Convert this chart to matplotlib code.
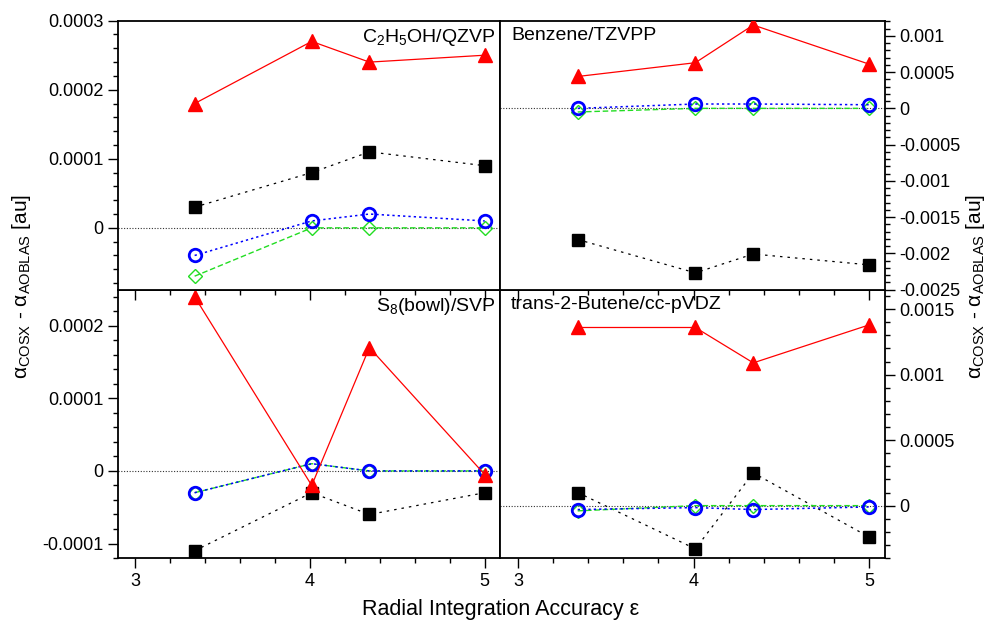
import numpy as np
import matplotlib
matplotlib.use('Agg')
import matplotlib.pyplot as plt
from matplotlib.ticker import MultipleLocator, FuncFormatter

plt.rcParams['font.family'] = ['Liberation Sans', 'DejaVu Sans']
plt.rcParams['mathtext.fontset'] = 'custom'
plt.rcParams['mathtext.rm'] = 'Liberation Sans'
plt.rcParams['mathtext.it'] = 'Liberation Sans:italic'

# radial integration accuracy
eps = [3.34, 4.01, 4.34, 5.0]

# C2H5OH/QZVP
ethanol_red = [0.00018, 0.00027, 0.00024, 0.00025]
ethanol_black = [0.00003, 0.00008, 0.00011, 0.00009]
ethanol_blue = [-0.00004, 0.00001, 0.00002, 0.00001]
ethanol_green = [-0.00007, 0.0, 0.0, 0.0]

# Benzene/TZVPP
benzene_red = [0.00044, 0.00063, 0.00115, 0.00061]
benzene_black = [-0.00181, -0.00227, -0.00201, -0.00216]
benzene_blue = [0.0, 0.00006, 0.00006, 0.00005]
benzene_green = [-0.00005, 0.0, 0.0, 0.0]

# S8(bowl)/SVP
s8_red = [0.00024, -0.00002, 0.00017, -0.000005]
s8_black = [-0.00011, -0.00003, -0.00006, -0.00003]
s8_blue = [-0.00003, 0.00001, 0.0, 0.0]
s8_green = [-0.00003, 0.00001, 0.0, 0.0]

# trans-2-Butene/cc-pVDZ
butene_red = [0.00136, 0.00136, 0.00109, 0.00138]
butene_black = [0.0001, -0.00033, 0.00025, -0.00024]
butene_blue = [-0.00003, -0.000015, -0.00003, -0.00001]
butene_green = [-0.00004, 0.0, 0.0, 0.0]

titles = [r'C$_2$H$_5$OH/QZVP', 'Benzene/TZVPP', r'S$_8$(bowl)/SVP', 'trans-2-Butene/cc-pVDZ']
ylims = [(-0.0000893, 0.0003), (-0.0025, 0.00121), (-0.00012, 0.00025), (-0.0004, 0.00165)]
ymajor = [0.0001, 0.0005, 0.0001, 0.0005]
yminor = [0.00002, 0.0001, 0.00002, 0.0001]

fig = plt.figure(figsize=(9.91, 6.23), dpi=100)

L, M, R = 0.1188, 0.505, 0.893
T, C, B = 0.9668, 0.5353, 0.1043

# bottom axes first so that the top ones draw their ticks over them
ax_bl = fig.add_axes([L, B, M - L, C - B])
ax_br = fig.add_axes([M, B, R - M, C - B])
ax_tl = fig.add_axes([L, C, M - L, T - C])
ax_tr = fig.add_axes([M, C, R - M, T - C])

panels = [
    (ax_tl, ethanol_red, ethanol_black, ethanol_blue, ethanol_green),
    (ax_tr, benzene_red, benzene_black, benzene_blue, benzene_green),
    (ax_bl, s8_red, s8_black, s8_blue, s8_green),
    (ax_br, butene_red, butene_black, butene_blue, butene_green),
]


def fmt(v, pos):
    if abs(v) < 1e-12:
        return '0'
    s = ('%.6f' % v).rstrip('0')
    return s


for i, (ax, red, black, blue, green) in enumerate(panels):
    ax.axhline(0, color='#333333', lw=0.8, ls=(0, (1, 1.5)), zorder=1)
    ax.plot(eps, black, color='black', lw=0.9, ls=(0, (2, 4)),
            marker='s', ms=9, zorder=3)
    ax.plot(eps, green, color='#22dd22', lw=1.0, ls=(0, (4, 2)),
            marker='D', ms=7, mfc='none', mew=1.0, zorder=4)
    ax.plot(eps, blue, color='#0000ff', lw=1.1, ls=(0, (1.5, 2)),
            marker='o', ms=9, mfc='none', mew=2.0, zorder=5)
    ax.plot(eps, red, color='#ff0000', lw=0.9, ls='-',
            marker='^', ms=9.5, zorder=6)

    ax.set_xlim(2.9, 5.09)
    ax.set_ylim(*ylims[i])
    ax.xaxis.set_major_locator(MultipleLocator(1))
    ax.xaxis.set_minor_locator(MultipleLocator(0.2))
    ax.yaxis.set_major_locator(MultipleLocator(ymajor[i]))
    ax.yaxis.set_minor_locator(MultipleLocator(yminor[i]))
    ax.yaxis.set_major_formatter(FuncFormatter(fmt))

    ax.tick_params(which='both', direction='out', labelsize=13, width=1.0)
    ax.tick_params(which='major', length=7)
    ax.tick_params(which='minor', length=3.5)

    right = i % 2 == 1
    top = i < 2
    if right:
        ax.yaxis.tick_right()
        ax.yaxis.set_label_position('right')
    ax.tick_params(axis='x', labelbottom=not top)
    for sp in ax.spines.values():
        sp.set_linewidth(1.3)

    if right:
        ax.text(0.028, 0.975, titles[i], transform=ax.transAxes,
                ha='left', va='top', fontsize=14)
    else:
        ax.text(0.988, 0.975, titles[i], transform=ax.transAxes,
                ha='right', va='top', fontsize=14)

ylab = r'α$_{\mathrm{COSX}}$ - α$_{\mathrm{AOBLAS}}$ [au]'
fig.text(0.022, 0.54, ylab, rotation=90, ha='center', va='center', fontsize=15)
fig.text(0.984, 0.54, ylab, rotation=90, ha='center', va='center', fontsize=15)
fig.text(0.505, 0.022, 'Radial Integration Accuracy ε', ha='center', va='center', fontsize=15.5)

fig.savefig('out.png', dpi=100)
